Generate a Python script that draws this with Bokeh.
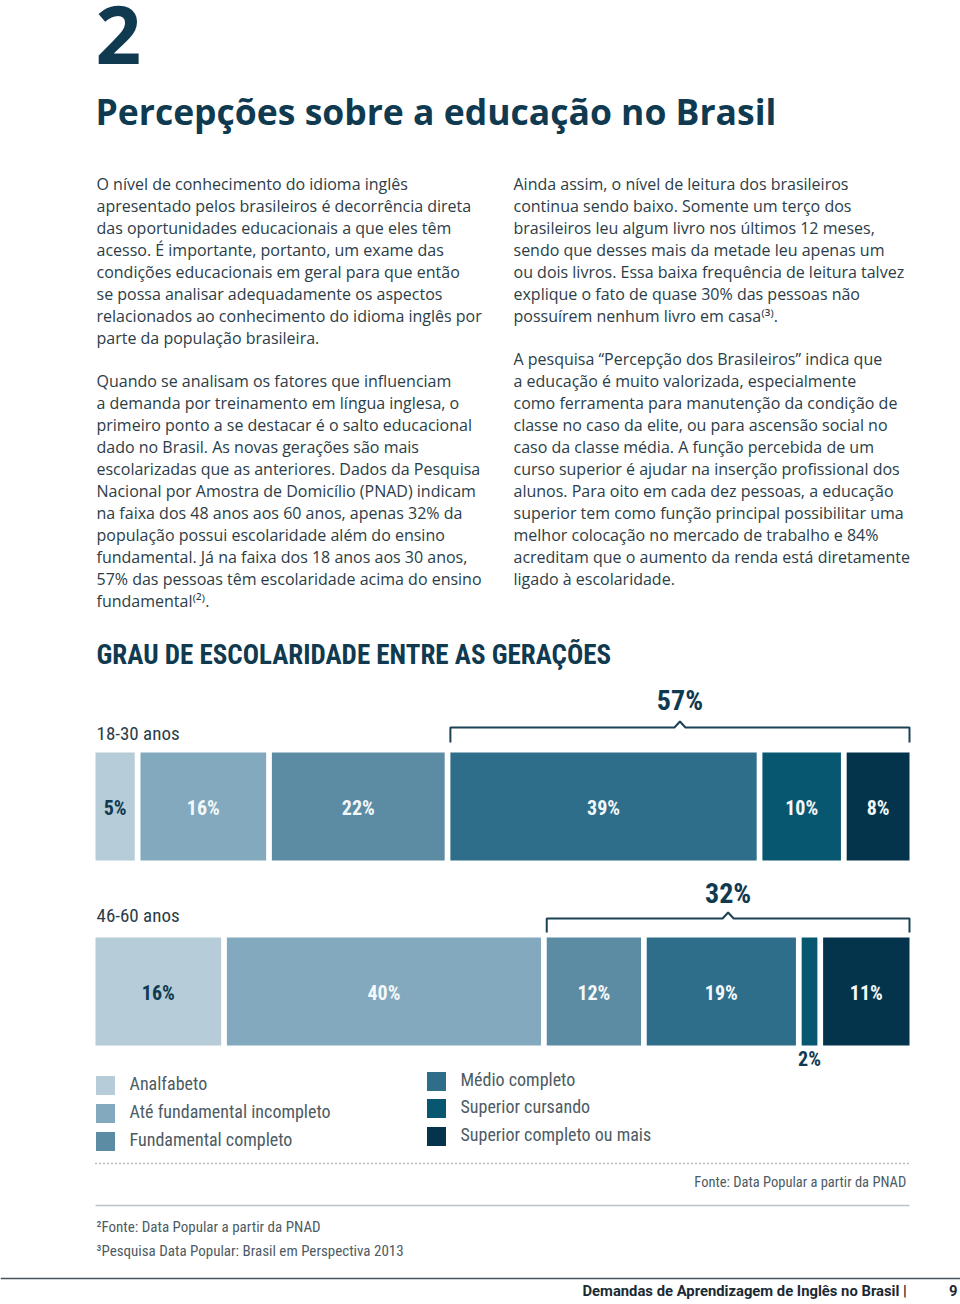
from bokeh.plotting import figure
from bokeh.models import Range1d, ColumnDataSource
from bokeh.core.properties import value
from bokeh.embed import file_html
from bokeh.resources import INLINE

# ---------------- data ----------------
categorias = ["Analfabeto", "Até fundamental incompleto", "Fundamental completo",
              "Médio completo", "Superior cursando", "Superior completo ou mais"]
cores = ["#b6ccd8", "#82a9bd", "#5b8ca4", "#2e6e8a", "#075771", "#04344b"]
faixas = ["18-30 anos", "46-60 anos"]
jovens = [5, 16, 22, 39, 10, 8]
adultos = [16, 40, 12, 19, 2, 11]
destaque_rotulos = ["57%", "32%"]
destaque_inicio = [3, 2]   # first category covered by the bracket

titulo_num = "2"
titulo = "Percepções sobre a educação no Brasil"
grafico_titulo = "GRAU DE ESCOLARIDADE ENTRE AS GERAÇÕES"
fonte = "Fonte: Data Popular a partir da  PNAD"
notas = ["²Fonte: Data Popular a partir da PNAD",
         "³Pesquisa Data Popular: Brasil em Perspectiva 2013"]
rodape = "Demandas de Aprendizagem de Inglês no Brasil  |"
pagina = "9"

esq_p1 = ["O nível de conhecimento do idioma inglês",
          "apresentado pelos brasileiros é decorrência direta",
          "das oportunidades educacionais a que eles têm",
          "acesso. É importante, portanto, um exame das",
          "condições educacionais em geral para que então",
          "se possa analisar adequadamente os aspectos",
          "relacionados ao conhecimento do idioma inglês por",
          "parte da população brasileira."]
esq_p2 = ["Quando se analisam os fatores que influenciam",
          "a demanda por treinamento em língua inglesa, o",
          "primeiro ponto a se destacar é o salto educacional",
          "dado no Brasil. As novas gerações são mais",
          "escolarizadas que as anteriores. Dados da Pesquisa",
          "Nacional por Amostra de Domicílio (PNAD) indicam",
          "na faixa dos 48 anos aos 60 anos, apenas 32% da",
          "população possui escolaridade além do ensino",
          "fundamental. Já na faixa dos 18 anos aos 30 anos,",
          "57% das pessoas têm escolaridade acima do ensino",
          "fundamental⁽²⁾."]
dir_p1 = ["Ainda assim, o nível de leitura dos brasileiros",
          "continua sendo baixo. Somente um terço dos",
          "brasileiros leu algum livro nos últimos 12 meses,",
          "sendo que desses mais da metade leu apenas um",
          "ou dois livros. Essa baixa frequência de leitura talvez",
          "explique o fato de quase 30% das pessoas não",
          "possuírem nenhum livro em casa⁽³⁾."]
dir_p2 = ["A pesquisa “Percepção dos Brasileiros” indica que",
          "a educação é muito valorizada, especialmente",
          "como ferramenta para manutenção da condição de",
          "classe no caso da elite, ou para ascensão social no",
          "caso da classe média. A função percebida de um",
          "curso superior é ajudar na inserção profissional dos",
          "alunos. Para oito em cada dez pessoas, a educação",
          "superior tem como função principal possibilitar uma",
          "melhor colocação no mercado de trabalho e 84%",
          "acreditam que o aumento da renda está diretamente",
          "ligado à escolaridade."]

# ---------------- style ----------------
NAVY = "#0f3a50"
BODY = "#2b3d48"
GRAY = "#4d5b64"
BODY_FONT = "Open Sans"
COND = "Liberation Sans Narrow, Roboto Condensed, DejaVu Sans Condensed, Roboto"

W, H = 960, 1300
GAP = 0.73
X0, X1 = 95, 909
total_units = 100 + 5 * GAP
k = (X1 - X0) / total_units

p = figure(width=W, height=H, x_range=Range1d(0, W), y_range=Range1d(H, 0),
           toolbar_location=None, output_backend="svg", min_border=0,
           x_axis_location=None, y_axis_location=None, outline_line_color=None)
p.extra_x_ranges = {"pct": Range1d((0 - X0) / k, (W - X0) / k)}
p.grid.visible = False
p.background_fill_color = "white"
p.border_fill_color = "white"


def txt(xs, ys, texts, size, color, font, style="normal", align="left",
        baseline="middle", rng="default"):
    src = ColumnDataSource(dict(x=xs, y=ys, t=texts))
    p.text("x", "y", text="t", source=src, text_font=value(font),
           text_font_size=f"{size}px", text_color=color, text_font_style=style,
           text_align=align, text_baseline=baseline, x_range_name=rng)


# header
txt([95], [34], [titulo_num], 80, NAVY, "Open Sans", "bold")
txt([95], [110], [titulo], 35.5, NAVY, "Open Sans", "bold")

# body text
def para(lines, x, y0):
    txt([x] * len(lines), [y0 + 22 * i for i in range(len(lines))], lines, 16, BODY, BODY_FONT)

para(esq_p1, 96, 183)
para(esq_p2, 96, 380)
para(dir_p1, 513, 183)
para(dir_p2, 513, 358)

# chart title
txt([96], [654], [grafico_titulo], 27, NAVY, COND, "bold")

rows = [(jovens, 752, 860, 727, 742, 700, 733), (adultos, 937, 1045, 918, 932, 893, 915)]
for r, (vals, top, bot, by, bt, ly, gy) in enumerate(rows):
    lefts, rights = [], []
    acc = 0
    for i, v in enumerate(vals):
        l = acc + i * GAP
        lefts.append(l)
        rights.append(l + v)
        acc += v
    p.quad(left=lefts, right=rights, top=[top] * 6, bottom=[bot] * 6,
           fill_color=cores, line_color=None, x_range_name="pct")
    # value labels
    cx = [(a + b) / 2 for a, b in zip(lefts, rights)]
    lab = [f"{v}%" for v in vals]
    cols = [NAVY if i == 0 else "#f4f8fa" for i in range(6)]
    inside = [i for i, v in enumerate(vals) if v >= 4]
    outside = [i for i, v in enumerate(vals) if v < 4]
    src = ColumnDataSource(dict(x=[cx[i] for i in inside], y=[(top + bot) / 2 + 1] * len(inside),
                                t=[lab[i] for i in inside], c=[cols[i] for i in inside]))
    p.text("x", "y", text="t", source=src, text_color="c", text_font=value(COND),
           text_font_size="20px", text_font_style="bold", text_align="center",
           text_baseline="middle", x_range_name="pct")
    if outside:
        txt([cx[i] for i in outside], [bot + 13] * len(outside), [lab[i] for i in outside],
            20, NAVY, COND, "bold", "center", rng="pct")
    # bracket
    s = destaque_inicio[r]
    bl, br = lefts[s], rights[-1]
    bc = (bl + br) / 2
    d = 5.5 / k
    p.line([bl, bl, bc - d, bc, bc + d, br, br], [bt, by, by, by - 6, by, by, bt],
           line_color="#1c4255", line_width=2, x_range_name="pct")
    txt([bc], [ly], [destaque_rotulos[r]], 28, NAVY, COND, "bold", "center", rng="pct")
    txt([96], [gy], [faixas[r]], 19, BODY, COND)

# legend
lx = [105, 105, 105, 436, 436, 436]
ly = [1085, 1113, 1141, 1081, 1108, 1136]
p.scatter(lx, ly, marker="square", size=19, fill_color=cores, line_color=None)
txt([x + 24 for x in lx], [y - 2 for y in ly], categorias, 18, GRAY, COND)

# rules and sources
p.line([95, 910], [1163, 1163], line_color="#6d7a82", line_width=1.5, line_dash="1 3")
txt([909], [1182], [fonte], 14.5, GRAY, COND, align="right")
p.line([95, 909], [1205, 1205], line_color="#b9c4cb", line_width=1.5)
txt([96, 96], [1226, 1250], notas, 15, GRAY, COND)
p.line([0, 960], [1278, 1278], line_color="#45545e", line_width=1.5)
txt([910], [1290], [rodape], 14.8, "#1b2a33", "Roboto", "bold", "right")
txt([957], [1290], [pagina], 14.8, "#1b2a33", "Roboto", "bold", "right")

open("out.html", "w").write(file_html(p, INLINE))
